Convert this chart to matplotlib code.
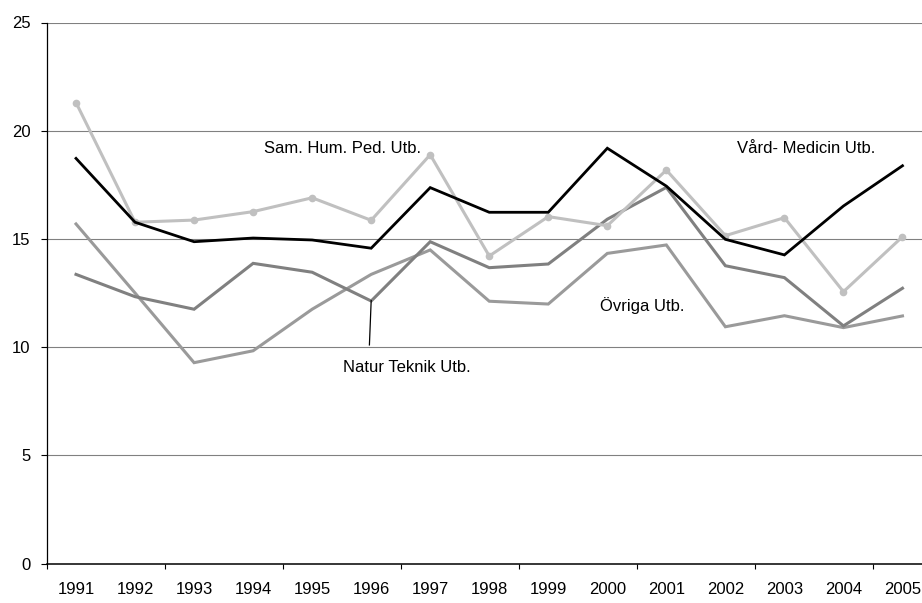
import matplotlib
matplotlib.use("Agg")
import matplotlib.pyplot as plt
import numpy as np

plt.rcParams['font.family'] = ['Liberation Sans', 'DejaVu Sans']

years = ["1991", "1992", "1993", "1994", "1995", "1996", "1997", "1998",
         "1999", "2000", "2001", "2002", "2003", "2004", "2005"]

sam_hum_ped = [21.3, 15.77, 15.87, 16.26, 16.9, 15.86, 18.89, 14.21,
               16.03, 15.61, 18.18, 15.15, 15.98, 12.56, 15.1]
vard_medicin = [18.72, 15.77, 14.87, 15.04, 14.95, 14.57, 17.37, 16.23,
                16.23, 19.19, 17.44, 14.98, 14.26, 16.52, 18.38]
natur_teknik = [13.36, 12.33, 11.75, 13.87, 13.46, 12.13, 14.87, 13.67,
                13.84, 15.91, 17.38, 13.76, 13.21, 10.98, 12.72]
ovriga = [15.69, 12.5, 9.28, 9.83, 11.75, 13.36, 14.49, 12.12,
          11.99, 14.33, 14.72, 10.94, 11.45, 10.9, 11.44]

y_ticks = [0, 5, 10, 15, 20, 25]

W, H = 922, 603
fig = plt.figure(figsize=(W / 100, H / 100), dpi=100)
left_px, right_px, top_px, bot_px = 46.5, 932, 22.5, 563.5
ax = fig.add_axes([left_px / W, (H - bot_px) / H,
                   (right_px - left_px) / W, (bot_px - top_px) / H])

x = np.arange(len(years))

for yv in y_ticks[1:]:
    ax.axhline(yv, color='#808080', lw=0.8, zorder=1)

ax.plot(x, ovriga, color='#9a9a9a', lw=2.2, zorder=3, solid_joinstyle='miter')
ax.plot(x, natur_teknik, color='#808080', lw=2.2, zorder=3, solid_joinstyle='miter')
ax.plot(x, sam_hum_ped, color='#c0c0c0', lw=2.2, marker='o', ms=4.5,
        zorder=4, solid_joinstyle='miter')
ax.plot(x, vard_medicin, color='#000000', lw=2.0, zorder=5, solid_joinstyle='miter')

ax.set_xlim(-0.5, len(years) - 0.5)
ax.set_ylim(0, 25)

fs = 12
ax.set_yticks(y_ticks)
ax.set_yticklabels([str(v) for v in y_ticks])
ax.tick_params(axis='y', length=4.5, width=0.8, pad=7, labelsize=fs, colors='black')

ax.set_xticks(np.arange(-0.5, len(years), 2))
ax.set_xticklabels([])
ax.set_xticks(x, minor=True)
ax.set_xticklabels(years, minor=True)
ax.tick_params(axis='x', which='major', length=3.5, width=0.8, direction='out')
ax.tick_params(axis='x', which='minor', length=0, pad=13, labelsize=fs)

for s in ['top', 'right']:
    ax.spines[s].set_visible(False)
ax.spines['left'].set_linewidth(0.9)
ax.spines['bottom'].set_linewidth(1.1)
ax.spines['left'].set_zorder(6)
ax.spines['bottom'].set_zorder(6)

ax.text(3.18, 19.2, "Sam. Hum. Ped. Utb.", fontsize=fs, va='center', ha='left')
ax.text(11.2, 19.2, "Vård- Medicin Utb.", fontsize=fs, va='center', ha='left')
ax.text(8.88, 11.9, "Övriga Utb.", fontsize=fs, va='center', ha='left')
ax.text(4.52, 9.08, "Natur Teknik Utb.", fontsize=fs, va='center', ha='left')
ax.plot([4.97, 5.0], [10.1, 12.15], color='black', lw=0.9, zorder=6)

fig.savefig("out.png", dpi=100)
